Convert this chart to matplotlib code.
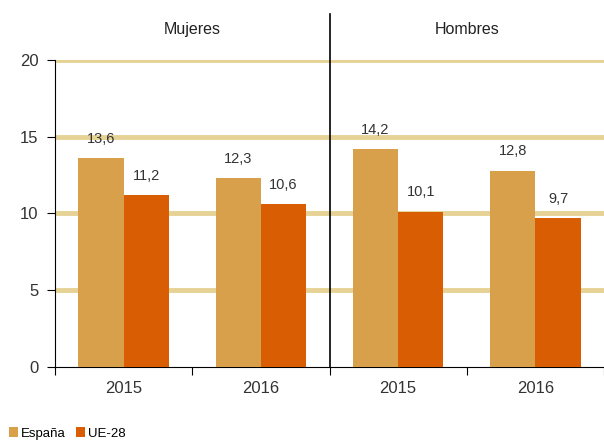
import matplotlib.pyplot as plt
import numpy as np

plt.rcParams['font.family'] = ['Liberation Sans', 'DejaVu Sans']

groups = ["Mujeres", "Hombres"]
years = ["2015", "2016", "2015", "2016"]
espana = [13.6, 12.3, 14.2, 12.8]
ue28 = [11.2, 10.6, 10.1, 9.7]
yticks = [0, 5, 10, 15, 20]

c_es = '#D9A04C'
c_ue = '#D95D03'
c_grid = '#E6D294'

fig = plt.figure(figsize=(6.04, 4.47), dpi=100)
ax = fig.add_axes([55/604, 1 - 367/447, 1 - 55/604, 307/447])

x = np.arange(len(years)) + 0.5
w = 0.33
b1 = ax.bar(x - w/2, espana, w, color=c_es, label='España', zorder=3)
b2 = ax.bar(x + w/2, ue28, w, color=c_ue, label='UE-28', zorder=3)

for bars, vals in ((b1, espana), (b2, ue28)):
    for r, v in zip(bars, vals):
        ax.annotate(f"{v:.1f}".replace('.', ','),
                    (r.get_x() + r.get_width()/2, v),
                    xytext=(0, 9), textcoords='offset points',
                    ha='center', va='bottom', fontsize=10.5, color='#333333')

ax.set_xlim(0, 4)
ax.set_ylim(0, 20)
ax.set_yticks(yticks)
ax.set_yticklabels([str(t) for t in yticks], fontsize=12, color='#333333')
for t in yticks[1:]:
    ax.axhline(t, color=c_grid, lw=3.5, zorder=1)

ax.set_xticks([0, 1, 2, 3, 4])
ax.set_xticklabels([])
ax.set_xticks(x, minor=True)
ax.set_xticklabels(years, minor=True, fontsize=12, color='#333333')
ax.tick_params(axis='x', which='major', direction='out', length=6, color='black')
ax.tick_params(axis='x', which='minor', length=0, pad=10)
ax.tick_params(axis='y', direction='out', length=6, pad=6)

for s in ['top', 'right']:
    ax.spines[s].set_visible(False)
ax.spines['left'].set_color('black')
ax.spines['bottom'].set_color('black')

# divider between groups
ax.plot([2, 2], [0, 1.15], transform=ax.get_xaxis_transform(),
        color='black', lw=1.2, clip_on=False, zorder=4)

ax.text(1, 1.1, groups[0], transform=ax.get_xaxis_transform(),
        ha='center', va='center', fontsize=11.5, color='#222222')
ax.text(3, 1.1, groups[1], transform=ax.get_xaxis_transform(),
        ha='center', va='center', fontsize=11.5, color='#222222')

fig.legend(handles=[b1, b2], loc='lower left', bbox_to_anchor=(-0.005, -0.01),
           ncol=2, frameon=False, fontsize=9.5, handlelength=0.7, handleheight=0.7,
           handletextpad=0.2, columnspacing=0.8)

fig.savefig('out.png', dpi=100)
